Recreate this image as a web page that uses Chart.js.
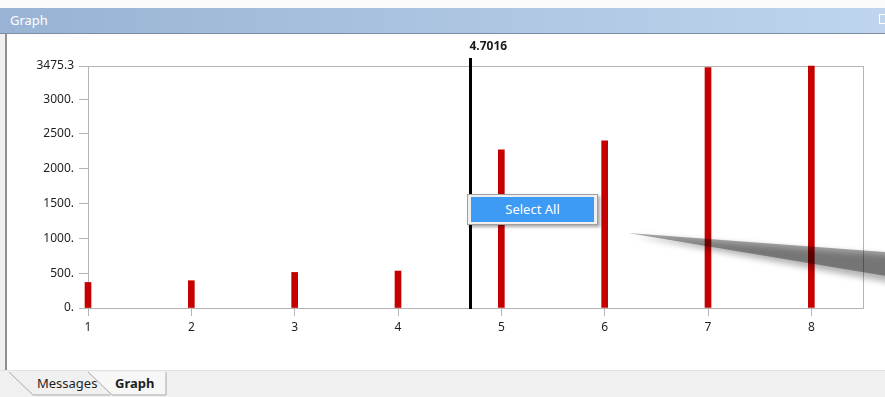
<!DOCTYPE html>
<html>
<head>
<meta charset="utf-8">
<script src="https://cdn.jsdelivr.net/npm/chart.js@4.4.1/dist/chart.umd.min.js"></script>
<style>
html,body{margin:0;padding:0;width:885px;height:397px;overflow:hidden;background:#f0f0f0;font-family:"Noto Sans",sans-serif;}
#topStrip{position:absolute;left:0;top:0;width:885px;height:8px;background:#fbfbfb;}
#title{position:absolute;left:0;top:8px;width:885px;height:25px;background:linear-gradient(to right,#98b3d3,#bfd5ee);border-bottom:1px solid #7d8ea6;color:#fff;font-size:13px;line-height:24px;}
#title span{margin-left:10px;}
#pin{position:absolute;left:879px;top:14px;width:7px;height:8px;border:1px solid #fff;border-right:none;}
#panel{position:absolute;left:5px;top:34px;width:878px;height:336px;background:#fff;border-left:2px solid #8f8f8f;}
#wrap{position:absolute;left:8px;top:34px;width:877px;height:336px;}
#tabs{position:absolute;left:0;top:370px;}
#menu{position:absolute;left:467px;top:194px;width:129px;height:29px;background:#f0f0f0;border:1px solid #a0a0a0;box-shadow:2px 2px 3px rgba(0,0,0,0.35);}
#menu div{position:absolute;left:3px;top:2px;width:123px;height:25px;background:#3d9bf5;color:#fff;font-size:13px;line-height:25px;text-align:center;}
.wedge{position:absolute;left:628px;top:228px;width:270px;height:64px;mix-blend-mode:multiply;}
#wedgeShadow{filter:blur(3px);}
#wedgeShadow div{width:100%;height:100%;background:rgba(0,0,0,0.3);clip-path:polygon(6px 8px,270px 28px,270px 56px);}
#wedgeBody div{width:100%;height:100%;background:#a8a8a8;clip-path:polygon(0px 5px,270px 25px,270px 50px);}
</style>
</head>
<body>
<div id="topStrip"></div>
<div id="title"><span>Graph</span></div>
<div id="pin"></div>
<div id="panel"></div>
<div id="wrap"><canvas id="chart" width="877" height="336"></canvas></div>
<svg id="tabs" width="885" height="27">
  <line x1="0" y1="0.5" x2="885" y2="0.5" stroke="#e2e2e2"/>
  <path d="M9,2 L33,25 L110,25" fill="none" stroke="#a9a9a9"/>
  <path d="M88,2 L112,25 L166,25 L166,2" fill="#f7f7f7" stroke="#a9a9a9"/>
  <text x="37" y="18" font-family="Noto Sans" font-size="13" fill="#1e1e1e">Messages</text>
  <text x="115" y="18" font-family="Noto Sans" font-size="13" font-weight="bold" fill="#1e1e1e">Graph</text>
</svg>
<div id="menu"><div>Select All</div></div>
<div id="wedgeShadow" class="wedge"><div></div></div>
<div id="wedgeBody" class="wedge"><div></div></div>

<script>
// values
const xValues = [1, 2, 3, 4, 5, 6, 7, 8];
const barValues = [367, 392, 511, 531, 2271, 2400, 3452, 3475.3];
const xTickValues = [1, 2, 3, 4, 5, 6, 7, 8];
const yTickValues = [0, 500, 1000, 1500, 2000, 2500, 3000, 3475.3];
const xMin = 1;
const xMax = 8.5;
const yMax = 3475.3;
const cursorX = 4.7016;

const tickFont = { family: "Noto Sans", size: 12 };

const frame = {
  id: "frame",
  beforeDatasetsDraw(chart){
    const { ctx, chartArea: a } = chart;
    ctx.save();
    ctx.strokeStyle = "#b4b4b4";
    ctx.lineWidth = 1;
    ctx.strokeRect(Math.round(a.left) + 0.5, Math.round(a.top) + 0.5,
      Math.round(a.right - a.left), Math.round(a.bottom - a.top));
    ctx.restore();
  }
};

const cursor = {
  id: "cursor",
  afterDatasetsDraw(chart){
    const { ctx, chartArea: a } = chart;
    const x = chart.scales.x.getPixelForValue(cursorX);
    ctx.save();
    ctx.strokeStyle = "#000";
    ctx.lineWidth = 3;
    ctx.beginPath();
    ctx.moveTo(x, a.top - 8);
    ctx.lineTo(x, a.bottom + 1);
    ctx.stroke();
    ctx.fillStyle = "#1a1a1a";
    ctx.font = "bold 12px 'Noto Sans'";
    ctx.textAlign = "left";
    ctx.textBaseline = "middle";
    ctx.fillText(String(cursorX), x - 1, a.top - 19);
    ctx.restore();
  }
};

new Chart(document.getElementById("chart"), {
  type: "bar",
  data: {
    datasets: [{
      data: xValues.map((x, i) => ({ x, y: barValues[i] })),
      backgroundColor: "#c40000",
      barThickness: 6,
      clip: false
    }]
  },
  options: {
    responsive: false,
    animation: false,
    layout: { padding: { left: 0, top: 32, right: 22, bottom: 0 } },
    plugins: { legend: { display: false }, tooltip: { enabled: false } },
    scales: {
      x: {
        type: "linear",
        min: xMin,
        max: xMax,
        offset: false,
        afterBuildTicks: s => { s.ticks = xTickValues.map(v => ({ value: v })); },
        afterFit: s => { s.height = 62; },
        grid: { drawOnChartArea: false, drawTicks: true, tickLength: 8, color: "#b4b4b4", offset: false },
        border: { color: "#b4b4b4" },
        ticks: { color: "#1e1e1e", font: tickFont, padding: 4, maxRotation: 0, autoSkip: false, callback: v => String(v) }
      },
      y: {
        min: 0,
        max: yMax,
        afterBuildTicks: s => { s.ticks = yTickValues.map(v => ({ value: v })); },
        afterFit: s => { s.width = 80; },
        grid: { drawOnChartArea: false, drawTicks: true, tickLength: 9, color: "#b4b4b4" },
        border: { color: "#b4b4b4" },
        ticks: { color: "#1e1e1e", font: tickFont, padding: 5, autoSkip: false,
          callback: v => v === yMax ? String(v) : v + "." }
      }
    }
  },
  plugins: [frame, cursor]
});
</script>
</body>
</html>
